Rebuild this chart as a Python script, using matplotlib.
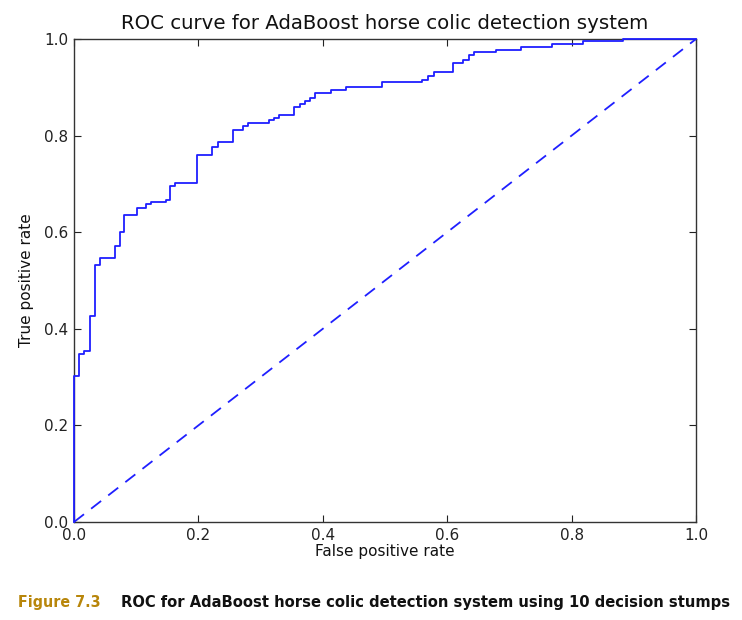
import matplotlib
matplotlib.use("Agg")
import matplotlib.pyplot as plt

# ROC step curve corner points (steps-post)
fpr = [0.0, 0.0, 0.008, 0.016, 0.026, 0.034, 0.041, 0.066, 0.074, 0.081,
       0.101, 0.115, 0.123, 0.148, 0.155, 0.163, 0.197, 0.222, 0.231, 0.256,
       0.272, 0.280, 0.313, 0.321, 0.330, 0.354, 0.363, 0.371, 0.379, 0.387,
       0.413, 0.438, 0.495, 0.560, 0.569, 0.578, 0.610, 0.626, 0.635, 0.643,
       0.678, 0.719, 0.768, 0.818, 0.883, 1.0]
tpr = [0.0, 0.303, 0.348, 0.355, 0.427, 0.533, 0.547, 0.572, 0.601, 0.635,
       0.651, 0.658, 0.663, 0.667, 0.696, 0.701, 0.759, 0.776, 0.786, 0.811,
       0.820, 0.827, 0.832, 0.836, 0.843, 0.859, 0.865, 0.871, 0.877, 0.888,
       0.894, 0.900, 0.910, 0.916, 0.923, 0.932, 0.951, 0.957, 0.967, 0.973,
       0.977, 0.984, 0.990, 0.995, 1.0, 1.0]
diag = [0.0, 1.0]
ticks = [0.0, 0.2, 0.4, 0.6, 0.8, 1.0]
tick_labels = ["0.0", "0.2", "0.4", "0.6", "0.8", "1.0"]

title = "ROC curve for AdaBoost horse colic detection system"
xlabel = "False positive rate"
ylabel = "True positive rate"
cap_num = "Figure 7.3"
cap_text = "ROC for AdaBoost horse colic detection system using 10 decision stumps"

plt.rcParams['font.family'] = ['DejaVu Sans']
fig = plt.figure(figsize=(7.42, 6.2), dpi=100)
ax = fig.add_axes([74/742, 1 - 522/620, 622/742, 483/620])

ax.plot(fpr, tpr, color='#1f1fff', lw=1.3, drawstyle='steps-post',
        clip_on=False, zorder=3)
ax.plot(diag, diag, color='#1f1fff', lw=1.3, linestyle=(0, (7, 5)),
        clip_on=False, zorder=3)

ax.set_xlim(0, 1)
ax.set_ylim(0, 1)
ax.set_xticks(ticks)
ax.set_xticklabels(tick_labels)
ax.set_yticks(ticks)
ax.set_yticklabels(tick_labels)
ax.tick_params(direction='in', top=True, right=True, length=5, width=0.8,
               labelsize=11, pad=4, colors='#222222')
for s in ax.spines.values():
    s.set_linewidth(1.0)
    s.set_color('#333333')

ax.set_title(title, fontsize=14.2, pad=7, color='#111111')
ax.set_xlabel(xlabel, fontsize=11, labelpad=1, color='#111111')
ax.set_ylabel(ylabel, fontsize=11, labelpad=7, color='#111111')

fig.text(18/742, 1 - 603/620, cap_num, fontsize=11.4, fontweight='bold',
         fontstretch='condensed', family=['Liberation Sans Narrow', 'DejaVu Sans'],
         color='#b8860b', va='center', ha='left')
fig.text(121/742, 1 - 603/620, cap_text, fontsize=11.75, fontweight='bold',
         fontstretch='condensed', family=['Liberation Sans Narrow', 'DejaVu Sans'],
         color='#111111', va='center', ha='left')

fig.savefig("out.png", dpi=100)
